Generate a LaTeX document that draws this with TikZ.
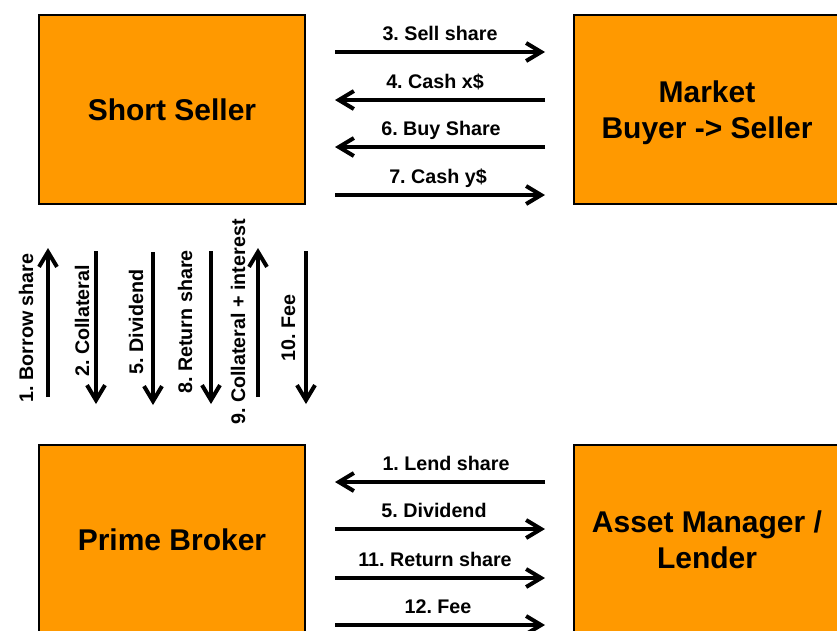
\documentclass[tikz,border=0pt]{standalone}
\usepackage{fontspec}
\setmainfont{Liberation Sans}
\usetikzlibrary{arrows.meta}
\definecolor{boxorange}{RGB}{255,153,0}
\frenchspacing
\begin{document}
\begin{tikzpicture}[x=1pt,y=-1pt,
  party/.style={draw=black, line width=2.5pt, fill=boxorange,
    minimum width=266pt, minimum height=189pt, inner sep=0pt, align=center,
    font=\fontsize{30}{36}\selectfont\bfseries},
  flow/.style={line width=4pt, -{Straight Barb[length=15pt,width=18pt]}},
  flowlabel/.style={font=\fontsize{19.7}{23}\selectfont\bfseries, inner sep=0pt, anchor=base},
  vlabel/.style={flowlabel, rotate=90}]
\useasboundingbox (0,0) rectangle (837,630);
\clip (0,0) rectangle (837,630);

% the four parties
\node[party] (seller) at (172,109.5) {Short Seller};
\node[party, text depth=0pt] (market) at (707,109.5) {Market\\Buyer -> Seller};
\node[party] (broker) at (172,539.5) {Prime Broker};
\node[party] (lender) at (707,539.5) {Asset Manager /\\Lender};

% ends of the flows between seller and market
\coordinate (sm1L) at (335,52);  \coordinate (sm1R) at (545,52);
\coordinate (sm2L) at (335,100); \coordinate (sm2R) at (545,100);
\coordinate (sm3L) at (335,147); \coordinate (sm3R) at (545,147);
\coordinate (sm4L) at (335,195); \coordinate (sm4R) at (545,195);

\draw[flow] (sm1L) -- (sm1R);
\draw[flow] (sm2R) -- (sm2L);
\draw[flow] (sm3R) -- (sm3L);
\draw[flow] (sm4L) -- (sm4R);
\node[flowlabel] (l3) at (440,40)  {3. Sell share};
\node[flowlabel] (l4) at (435,88)  {4. Cash x\$};
\node[flowlabel] (l6) at (441,135) {6. Buy Share};
\node[flowlabel] (l7) at (438,183) {7. Cash y\$};

% ends of the flows between broker and lender
\coordinate (bl1L) at (335,482); \coordinate (bl1R) at (545,482);
\coordinate (bl2L) at (335,529); \coordinate (bl2R) at (545,529);
\coordinate (bl3L) at (335,578); \coordinate (bl3R) at (545,578);
\coordinate (bl4L) at (335,625); \coordinate (bl4R) at (545,625);

\draw[flow] (bl1R) -- (bl1L);
\draw[flow] (bl2L) -- (bl2R);
\draw[flow] (bl3L) -- (bl3R);
\draw[flow] (bl4L) -- (bl4R);
\node[flowlabel] (k1)  at (446,470) {1. Lend share};
\node[flowlabel] (k5)  at (434,517) {5. Dividend};
\node[flowlabel] (k11) at (435,566) {11. Return share};
\node[flowlabel] (k12) at (438,613) {12. Fee};

% ends of the flows between seller and broker
\coordinate (v1T) at (48,248);  \coordinate (v1B) at (48,397);
\coordinate (v2T) at (96,251);  \coordinate (v2B) at (96,404);
\coordinate (v5T) at (153,252); \coordinate (v5B) at (153,405);
\coordinate (v8T) at (211,251); \coordinate (v8B) at (211,404);
\coordinate (v9T) at (258,248); \coordinate (v9B) at (258,397);
\coordinate (v10T) at (306,251); \coordinate (v10B) at (306,404);

\draw[flow] (v1B) -- (v1T);
\draw[flow] (v2T) -- (v2B);
\draw[flow] (v5T) -- (v5B);
\draw[flow] (v8T) -- (v8B);
\draw[flow] (v9B) -- (v9T);
\draw[flow] (v10T) -- (v10B);
\node[vlabel] (m1)  at (33,328)  {1. Borrow share};
\node[vlabel] (m2)  at (89,321)  {2. Collateral};
\node[vlabel] (m5)  at (143,322) {5. Dividend};
\node[vlabel] (m8)  at (192,322) {8. Return share};
\node[vlabel] (m9)  at (245,322) {9. Collateral + interest};
\node[vlabel] (m10) at (295,328) {10. Fee};
\end{tikzpicture}
\end{document}
